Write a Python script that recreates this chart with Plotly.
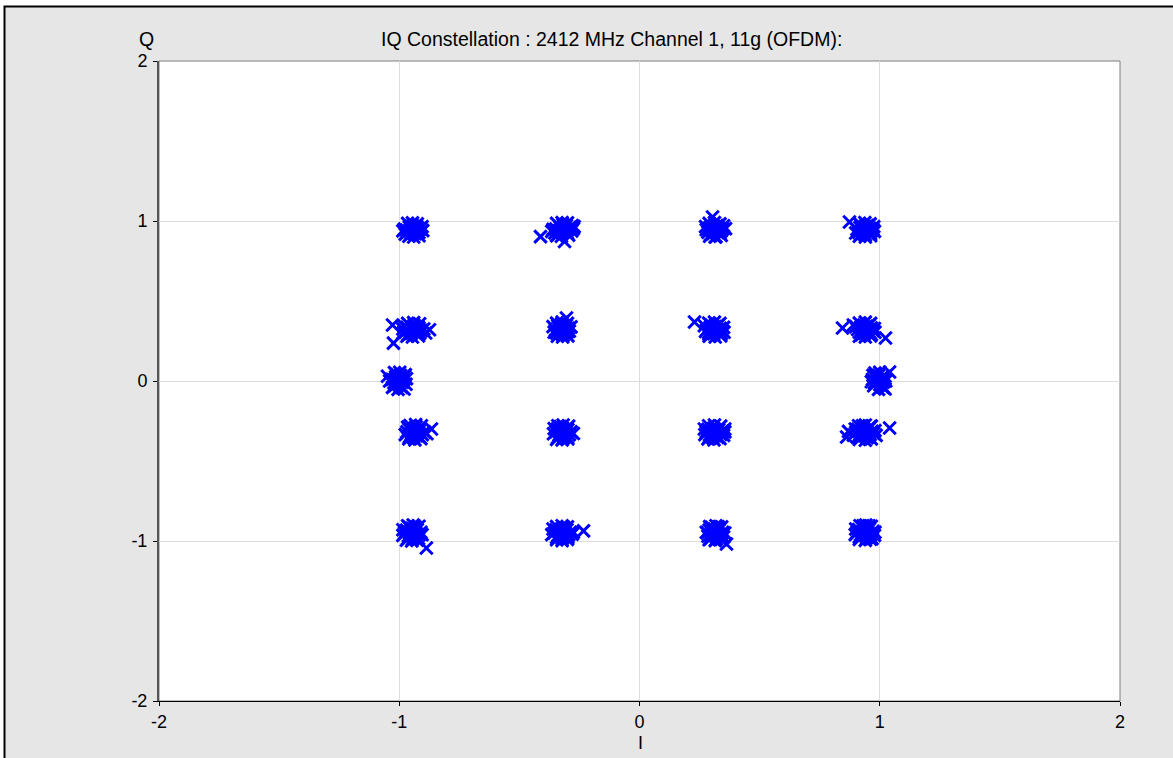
import plotly.graph_objects as go

# Measured constellation points (I, Q), grouped by symbol row
row_top_i = [-0.978, -0.965, -0.958, -0.949, -0.941, -0.936, -0.928, -0.918, -0.912, -0.902, -0.970, -0.952, -0.944, -0.925, -0.933, -0.958, -0.920, -0.985,
             -0.965, -0.945, -0.925, -0.960, -0.940, -0.918, -0.905, -0.975,
             -0.365, -0.352, -0.348, -0.338, -0.330, -0.322, -0.315, -0.305, -0.298, -0.290, -0.282, -0.275, -0.342, -0.318, -0.360, -0.300, -0.412, -0.312, -0.280,
             -0.345, -0.322, -0.300, -0.345, -0.325, -0.295, -0.272,
             0.278, 0.285, 0.292, 0.300, 0.306, 0.312, 0.318, 0.325, 0.332, 0.340, 0.346, 0.296, 0.322, 0.288, 0.335, 0.304, 0.358, 0.315,
             0.290, 0.312, 0.335, 0.292, 0.318, 0.340, 0.350, 0.275,
             0.905, 0.912, 0.918, 0.926, 0.932, 0.938, 0.945, 0.952, 0.958, 0.965, 0.972, 0.920, 0.948, 0.930, 0.962, 0.874, 0.978, 0.940,
             0.915, 0.938, 0.960, 0.915, 0.940, 0.962, 0.975, 0.900]
row_top_q = [0.950, 0.932, 0.962, 0.944, 0.925, 0.958, 0.940, 0.928, 0.952, 0.940, 0.943, 0.918, 0.970, 0.962, 0.921, 0.938, 0.946, 0.938,
             0.985, 0.988, 0.982, 0.905, 0.900, 0.908, 0.965, 0.918,
             0.935, 0.925, 0.950, 0.938, 0.962, 0.930, 0.950, 0.970, 0.945, 0.960, 0.938, 0.952, 0.912, 0.975, 0.948, 0.925, 0.902, 0.872, 0.972,
             0.985, 0.990, 0.988, 0.908, 0.905, 0.912, 0.965,
             0.945, 0.930, 0.958, 0.940, 0.920, 0.962, 0.945, 0.928, 0.955, 0.938, 0.950, 0.915, 0.972, 0.950, 0.922, 1.025, 0.952, 0.900,
             0.985, 0.990, 0.982, 0.905, 0.902, 0.910, 0.970, 0.965,
             0.948, 0.930, 0.960, 0.942, 0.922, 0.966, 0.940, 0.928, 0.955, 0.938, 0.948, 0.915, 0.972, 0.952, 0.920, 0.994, 0.935, 0.912,
             0.985, 0.990, 0.982, 0.905, 0.900, 0.908, 0.965, 0.925]

row_upper_i = [-0.985, -0.975, -0.968, -0.958, -0.950, -0.942, -0.935, -0.926, -0.918, -0.908, -0.898, -0.962, -0.938, -0.915, -0.978, -1.028, -1.024, -0.874, -0.890,
               -0.965, -0.940, -0.915, -0.968, -0.945, -0.920, -0.985,
               -0.350, -0.345, -0.338, -0.330, -0.322, -0.316, -0.310, -0.302, -0.296, -0.340, -0.325, -0.305, -0.355, -0.292, -0.304, -0.360, -0.318,
               -0.345, -0.322, -0.300, -0.342, -0.320, -0.298, -0.285,
               0.280, 0.288, 0.294, 0.302, 0.309, 0.315, 0.322, 0.330, 0.336, 0.344, 0.298, 0.326, 0.290, 0.340, 0.229, 0.270, 0.350,
               0.288, 0.312, 0.335, 0.290, 0.315, 0.338, 0.352, 0.275,
               0.908, 0.915, 0.922, 0.930, 0.937, 0.944, 0.950, 0.958, 0.965, 0.972, 0.925, 0.955, 0.900, 0.978, 0.845, 1.024, 0.890, 0.965,
               0.915, 0.940, 0.962, 0.915, 0.940, 0.962, 0.980]
row_upper_q = [0.325, 0.305, 0.335, 0.318, 0.298, 0.340, 0.322, 0.305, 0.332, 0.315, 0.325, 0.290, 0.348, 0.298, 0.340, 0.350, 0.237, 0.320, 0.300,
               0.360, 0.365, 0.358, 0.280, 0.275, 0.282, 0.300,
               0.318, 0.300, 0.335, 0.312, 0.295, 0.340, 0.320, 0.305, 0.330, 0.345, 0.355, 0.348, 0.305, 0.312, 0.394, 0.340, 0.285,
               0.362, 0.368, 0.360, 0.280, 0.275, 0.282, 0.338,
               0.320, 0.302, 0.335, 0.315, 0.295, 0.340, 0.322, 0.305, 0.330, 0.315, 0.350, 0.348, 0.290, 0.295, 0.369, 0.345, 0.335,
               0.362, 0.368, 0.360, 0.280, 0.275, 0.282, 0.305, 0.310,
               0.322, 0.305, 0.338, 0.318, 0.298, 0.342, 0.322, 0.305, 0.332, 0.315, 0.290, 0.350, 0.340, 0.328, 0.331, 0.269, 0.350, 0.290,
               0.362, 0.368, 0.360, 0.280, 0.275, 0.282, 0.305]

row_mid_i = [-1.030, -1.022, -1.015, -1.008, -1.000, -0.993, -0.986, -0.978, -0.972, -1.018, -0.995, -0.982, -1.010, -1.049, -0.990, -0.970, -1.040,
             -1.020, -0.998, -0.980, -1.005, -1.028, -0.975,
             0.970, 0.978, 0.985, 0.992, 1.000, 1.007, 1.014, 1.020, 0.975, 0.995, 1.010, 0.982, 1.041, 1.015, 0.965, 1.022,
             0.980, 1.000, 1.022, 0.995, 0.972, 1.025]
row_mid_q = [0.010, -0.012, 0.025, 0.000, -0.025, 0.018, -0.008, 0.030, -0.020, -0.030, 0.035, 0.008, 0.040, 0.030, -0.040, 0.015, 0.000,
             0.052, 0.055, -0.050, -0.052, -0.040, 0.040,
             0.010, -0.012, 0.025, 0.000, -0.022, 0.020, -0.008, 0.015, -0.030, 0.035, -0.035, 0.040, 0.056, -0.040, -0.005, 0.030,
             0.050, 0.055, -0.050, -0.052, 0.035, 0.000]

row_lower_i = [-0.968, -0.960, -0.952, -0.944, -0.936, -0.928, -0.920, -0.912, -0.904, -0.958, -0.940, -0.916, -0.965, -0.930, -0.895, -0.866, -0.885, -0.948,
               -0.960, -0.935, -0.910, -0.955, -0.932, -0.908, -0.975,
               -0.348, -0.342, -0.335, -0.328, -0.320, -0.313, -0.306, -0.298, -0.292, -0.340, -0.318, -0.300, -0.355, -0.285, -0.330, -0.275,
               -0.345, -0.322, -0.298, -0.340, -0.318, -0.295, -0.358,
               0.278, 0.285, 0.292, 0.300, 0.308, 0.315, 0.322, 0.330, 0.338, 0.345, 0.290, 0.325, 0.270, 0.350, 0.355, 0.305,
               0.285, 0.310, 0.335, 0.288, 0.312, 0.338, 0.272, 0.355,
               0.900, 0.908, 0.915, 0.922, 0.930, 0.938, 0.945, 0.952, 0.960, 0.968, 0.975, 0.912, 0.948, 0.890, 0.928, 0.862, 1.041, 0.985, 0.870, 0.960,
               0.915, 0.940, 0.965, 0.912, 0.940, 0.965, 0.898, 0.980]
row_lower_q = [-0.318, -0.300, -0.338, -0.312, -0.295, -0.342, -0.322, -0.305, -0.335, -0.350, -0.355, -0.350, -0.288, -0.285, -0.318, -0.300, -0.330, -0.325,
               -0.362, -0.368, -0.360, -0.278, -0.272, -0.280, -0.335,
               -0.318, -0.300, -0.338, -0.312, -0.295, -0.342, -0.322, -0.305, -0.335, -0.352, -0.358, -0.350, -0.298, -0.318, -0.285, -0.328,
               -0.365, -0.368, -0.362, -0.280, -0.275, -0.282, -0.330,
               -0.318, -0.302, -0.336, -0.312, -0.296, -0.340, -0.320, -0.305, -0.334, -0.315, -0.350, -0.352, -0.300, -0.340, -0.318, -0.355,
               -0.362, -0.368, -0.360, -0.280, -0.275, -0.282, -0.335, -0.300,
               -0.320, -0.302, -0.338, -0.315, -0.296, -0.342, -0.320, -0.303, -0.335, -0.315, -0.328, -0.352, -0.355, -0.338, -0.280, -0.350, -0.294, -0.340, -0.315, -0.285,
               -0.365, -0.370, -0.362, -0.280, -0.275, -0.282, -0.300, -0.310]

row_bottom_i = [-0.978, -0.970, -0.962, -0.955, -0.948, -0.940, -0.932, -0.925, -0.918, -0.910, -0.965, -0.945, -0.960, -0.935, -0.985, -0.887, -0.920,
                -0.970, -0.948, -0.925, -0.965, -0.942, -0.918, -0.905, -0.985,
                -0.355, -0.348, -0.340, -0.332, -0.325, -0.318, -0.310, -0.302, -0.295, -0.288, -0.345, -0.322, -0.298, -0.360, -0.280, -0.233, -0.315,
                -0.345, -0.322, -0.300, -0.345, -0.322, -0.300, -0.275, -0.365,
                0.282, 0.290, 0.297, 0.304, 0.311, 0.318, 0.325, 0.332, 0.340, 0.346, 0.295, 0.320, 0.300, 0.328, 0.350, 0.362, 0.285,
                0.290, 0.315, 0.340, 0.292, 0.318, 0.342, 0.355, 0.278,
                0.905, 0.912, 0.920, 0.928, 0.935, 0.942, 0.950, 0.957, 0.964, 0.972, 0.915, 0.945, 0.930, 0.955, 0.978, 0.900, 0.968,
                0.915, 0.940, 0.962, 0.918, 0.942, 0.965, 0.980, 0.898]
row_bottom_q = [-0.950, -0.932, -0.968, -0.942, -0.920, -0.975, -0.950, -0.930, -0.962, -0.945, -0.985, -0.990, -0.912, -0.910, -0.965, -1.044, -0.985,
                -0.995, -1.000, -0.995, -0.905, -0.900, -0.908, -0.960, -0.930,
                -0.950, -0.932, -0.966, -0.942, -0.925, -0.972, -0.950, -0.930, -0.962, -0.945, -0.978, -0.985, -0.978, -0.925, -0.958, -0.937, -0.915,
                -0.992, -0.998, -0.990, -0.910, -0.905, -0.912, -0.945, -0.960,
                -0.950, -0.932, -0.966, -0.942, -0.925, -0.970, -0.948, -0.930, -0.962, -0.945, -0.985, -0.988, -0.915, -0.912, -0.975, -1.019, -0.970,
                -0.992, -0.998, -0.990, -0.910, -0.905, -0.912, -0.950, -0.945,
                -0.945, -0.928, -0.962, -0.940, -0.918, -0.965, -0.945, -0.925, -0.958, -0.940, -0.975, -0.980, -0.905, -0.905, -0.965, -0.925, -0.985,
                -0.990, -0.996, -0.988, -0.905, -0.900, -0.908, -0.945, -0.960]

tick_vals = [-2, -1, 0, 1, 2]
tick_text = ["-2", "-1", "0", "1", "2"]

i_vals = row_top_i + row_upper_i + row_mid_i + row_lower_i + row_bottom_i
q_vals = row_top_q + row_upper_q + row_mid_q + row_lower_q + row_bottom_q

FONT = "Liberation Sans, Arial, sans-serif"
W, H = 1173, 758
L, R, T, B = 159, 53, 61, 57
pw, ph = W - L - R, H - T - B


def px_x(p):
    return (p - L) / pw


def px_y(p):
    return (H - B - p) / ph


fig = go.Figure()
fig.add_trace(go.Scatter(
    x=i_vals, y=q_vals, mode="markers",
    marker=dict(symbol="x-thin", size=12.5, color="#0000ff",
                line=dict(color="#0000ff", width=3)),
    hoverinfo="skip", showlegend=False,
))

axis_common = dict(
    range=[-2, 2], tickvals=tick_vals, ticktext=tick_text,
    showgrid=True, gridcolor="#dcdcdc", gridwidth=1, zeroline=False,
    ticks="outside", ticklen=4, tickcolor="#000000", tickwidth=1,
    tickfont=dict(family=FONT, size=18, color="#000000"),
)

fig.update_xaxes(**axis_common, showline=True, linecolor="#000000", linewidth=1)
fig.update_yaxes(**axis_common, showline=True, linecolor="#555555", linewidth=2, ticklabelstandoff=2)

fig.update_layout(
    width=W, height=H,
    margin=dict(l=L, r=R, t=T, b=B),
    paper_bgcolor="#ffffff", plot_bgcolor="#ffffff",
    shapes=[
        # outer panel
        dict(type="rect", xref="paper", yref="paper", layer="below",
             x0=px_x(4.5), x1=px_x(1180), y0=px_y(770), y1=px_y(6.5),
             fillcolor="#e6e6e6", line=dict(color="#000000", width=2)),
        # plotting area
        dict(type="rect", xref="paper", yref="paper", layer="below",
             x0=0, x1=1, y0=0, y1=1, fillcolor="#ffffff",
             line=dict(color="#7f7f7f", width=1)),
    ],
    annotations=[
        dict(text="IQ Constellation : 2412 MHz Channel 1, 11g (OFDM):",
             xref="paper", yref="paper", x=px_x(611.5), y=px_y(39),
             xanchor="center", yanchor="middle", showarrow=False,
             font=dict(family=FONT, size=19.5, color="#000000")),
        dict(text="Q", xref="paper", yref="paper", x=px_x(146), y=px_y(38.5),
             xanchor="center", yanchor="middle", showarrow=False,
             font=dict(family=FONT, size=19.5, color="#000000")),
        dict(text="I", xref="paper", yref="paper", x=px_x(640), y=px_y(743),
             xanchor="center", yanchor="middle", showarrow=False,
             font=dict(family=FONT, size=18, color="#000000")),
    ],
)

fig.write_html("out.html")
